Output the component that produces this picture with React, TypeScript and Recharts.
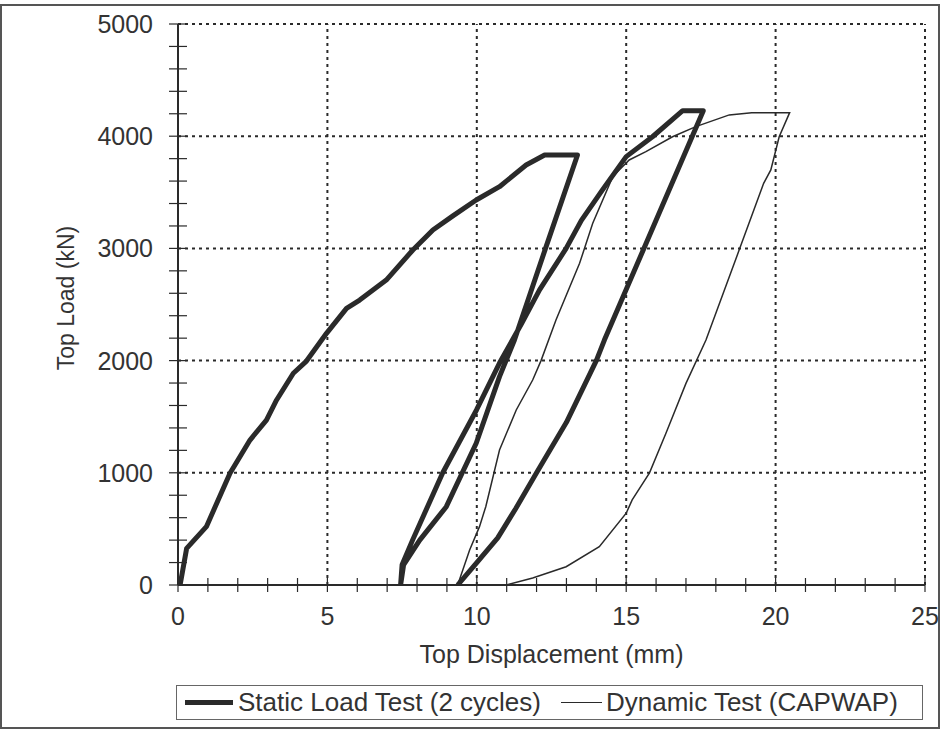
import { LineChart, Line, XAxis, YAxis, ReferenceLine, Label } from 'recharts'

// static load test, two cycles (load -> unload -> reload -> unload), mm / kN
const STATIC_X = [
  0, 0.07, 0.29, 0.95, 1.74, 2.41, 2.96, 3.3, 3.86, 4.3, 4.97, 5.64, 6.08, 6.97, 7.86, 8.53, 9.2, 9.98, 10.76, 11.65,
  12.27, 13.37, 12.3, 11.26, 10.76, 9.98, 8.98, 8.09, 7.55, 7.45, 7.5, 7.85, 8.86, 9.99, 10.76, 11.5, 12.1, 12.99,
  13.5, 14.2, 15.0, 15.88, 16.89, 17.58, 14.27, 14.0, 13.0, 12.0, 11.3, 10.7, 10.0, 9.36,
]
const STATIC_Y = [
  0, 0, 327, 520, 996, 1292, 1470, 1649, 1887, 1996, 2243, 2466, 2540, 2718, 2986, 3164, 3290, 3431, 3550, 3743,
  3832, 3832, 3000, 2183, 1857, 1263, 698, 400, 180, 0, 180, 400, 1000, 1560, 1978, 2330, 2630, 3000,
  3250, 3520, 3818, 3995, 4227, 4227, 2183, 2000, 1450, 1000, 680, 420, 200, 0,
]

// dynamic test (CAPWAP) loop
const DYN_X = [
  9.1, 9.36, 9.76, 10.09, 10.3, 10.76, 11.32, 11.87, 12.15, 12.65, 13.44, 13.88, 14.55, 15.1, 15.66, 16.55, 17.33,
  18.45, 19.2, 20.47, 20.12, 19.84, 19.6, 18.78, 17.67, 17.0, 16.33, 15.78, 15.2, 15.0, 14.1, 12.99, 11.87, 10.98,
]
const DYN_Y = [
  0, 0, 312, 520, 698, 1203, 1560, 1827, 2000, 2362, 2867, 3224, 3640, 3788, 3862, 3995, 4085,
  4190, 4210, 4210, 3995, 3700, 3580, 2985, 2183, 1797, 1352, 1000, 758, 640, 341, 163, 62, 0,
]

const X_TICKS = [0, 1, 2, 3, 4, 5, 6, 7, 8, 9, 10, 11, 12, 13, 14, 15, 16, 17, 18, 19, 20, 21, 22, 23, 24, 25]
const X_MAJOR = [0, 5, 10, 15, 20, 25]
const Y_TICKS = [
  0, 200, 400, 600, 800, 1000, 1200, 1400, 1600, 1800, 2000, 2200, 2400, 2600, 2800, 3000, 3200, 3400, 3600, 3800,
  4000, 4200, 4400, 4600, 4800, 5000,
]
const Y_MAJOR = [0, 1000, 2000, 3000, 4000, 5000]
const X_GRID = [5, 10, 15, 20, 25]
const Y_GRID = [1000, 2000, 3000, 4000, 5000]

const staticData = STATIC_X.map((x, i) => ({ x, y: STATIC_Y[i] }))
const dynData = DYN_X.map((x, i) => ({ x, y: DYN_Y[i] }))

const FONT = '"Liberation Sans", Arial, sans-serif'
const INK = '#2a2a2a'
const TEXT = '#333'

const XTick = (props: any) => {
  const { x, y, payload } = props
  const major = X_MAJOR.includes(payload.value)
  return (
    <g>
      <line x1={x} x2={x} y1={y - 7} y2={y + 7} stroke={INK} strokeWidth={1.2} />
      {major && (
        <text x={x} y={y + 40} textAnchor="middle" fontSize={25} fill={TEXT} fontFamily={FONT}>
          {payload.value}
        </text>
      )}
    </g>
  )
}

const YTick = (props: any) => {
  const { x, y, payload } = props
  const major = Y_MAJOR.includes(payload.value)
  return (
    <g>
      <line x1={x - 9} x2={x + 9} y1={y} y2={y} stroke={INK} strokeWidth={1.2} />
      {major && (
        <text x={x - 25} y={y + 9} textAnchor="end" fontSize={25} fill={TEXT} fontFamily={FONT}>
          {payload.value}
        </text>
      )}
    </g>
  )
}

const XTitle = (props: any) => {
  const vb = props.viewBox
  return (
    <text x={vb.x + vb.width / 2} y={663} textAnchor="middle" fontSize={25} fill={TEXT} fontFamily={FONT}>
      Top Displacement (mm)
    </text>
  )
}

const YTitle = (props: any) => {
  const cx = 74
  const cy = 298
  return (
    <text
      x={cx}
      y={cy}
      transform={`rotate(-90 ${cx} ${cy})`}
      textAnchor="middle"
      fontSize={23}
      fill={TEXT}
      fontFamily={FONT}
    >
      Top Load (kN)
    </text>
  )
}

const gridStyle = { stroke: INK, strokeWidth: 2, strokeDasharray: '3 4' }

export default function App() {
  return (
    <div style={{ position: 'absolute', left: 0, top: 0, width: 940, height: 730, background: '#fff' }}>
      <div
        style={{
          position: 'absolute',
          left: 0,
          top: 4,
          width: 936,
          height: 721,
          border: '2px solid #555',
        }}
      />
      <div style={{ position: 'absolute', left: 0, top: 0 }}>
        <LineChart width={940} height={730} margin={{ top: 24, right: 15, bottom: 0, left: 0 }}>
          <XAxis
            dataKey="x"
            type="number"
            domain={[0, 25]}
            ticks={X_TICKS}
            interval={0}
            tickSize={0}
            tickMargin={0}
            tick={<XTick />}
            height={145}
            axisLine={{ stroke: INK, strokeWidth: 2 }}
            allowDataOverflow
          >
            <Label content={<XTitle />} />
          </XAxis>
          <YAxis
            dataKey="y"
            type="number"
            domain={[0, 5000]}
            ticks={Y_TICKS}
            interval={0}
            tickSize={0}
            tickMargin={0}
            tick={<YTick />}
            width={178}
            axisLine={{ stroke: INK, strokeWidth: 2 }}
            allowDataOverflow
          >
            <Label content={<YTitle />} />
          </YAxis>
          {X_GRID.map((v) => (
            <ReferenceLine key={'gx' + v} x={v} {...gridStyle} />
          ))}
          {Y_GRID.map((v) => (
            <ReferenceLine key={'gy' + v} y={v} {...gridStyle} />
          ))}
          <Line
            data={dynData}
            dataKey="y"
            type="linear"
            stroke={INK}
            strokeWidth={1.5}
            dot={false}
            isAnimationActive={false}
          />
          <Line
            data={staticData}
            dataKey="y"
            type="linear"
            stroke={INK}
            strokeWidth={5}
            strokeLinejoin="round"
            dot={false}
            isAnimationActive={false}
          />
        </LineChart>
      </div>
      <div
        style={{
          position: 'absolute',
          left: 176,
          top: 685,
          width: 747,
          height: 35,
          border: '1.5px solid #666',
          boxSizing: 'border-box',
          display: 'flex',
          alignItems: 'center',
          fontFamily: FONT,
          fontSize: 26,
          color: TEXT,
          whiteSpace: 'nowrap',
        }}
      >
        <span style={{ display: 'inline-block', width: 48, height: 5, background: INK, marginLeft: 8, marginRight: 5 }} />
        <span>Static Load Test (2 cycles)</span>
        <span style={{ display: 'inline-block', width: 41, height: 1.5, background: INK, marginLeft: 20, marginRight: 4 }} />
        <span>Dynamic Test (CAPWAP)</span>
      </div>
    </div>
  )
}
